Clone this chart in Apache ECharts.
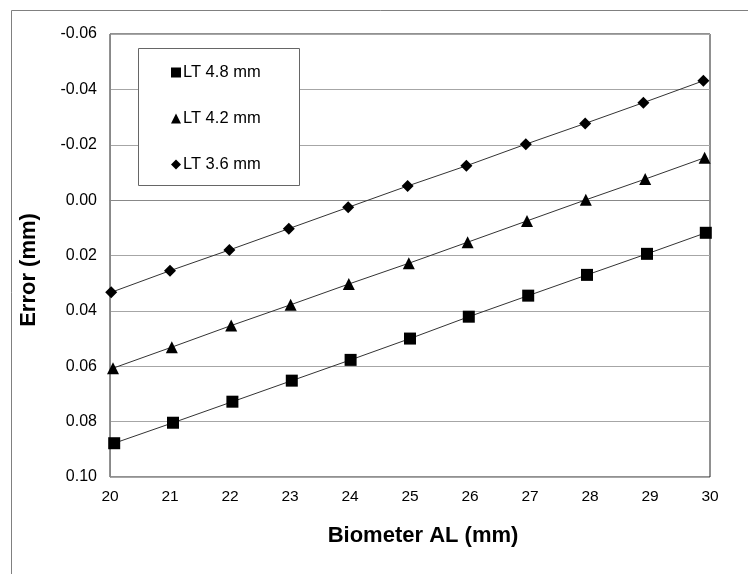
<!DOCTYPE html>
<html>
<head>
<meta charset="utf-8">
<style>
  html, body { margin: 0; padding: 0; background: #fff; }
  #chart { width: 748px; height: 574px; }
</style>
<script src="https://cdn.jsdelivr.net/npm/echarts@6/dist/echarts.min.js"></script>
</head>
<body>
<div id="chart"></div>
<script>
// Biometer axial length (mm) and resulting error (mm) for three lens thicknesses
const seriesNames = ['LT 4.8 mm', 'LT 4.2 mm', 'LT 3.6 mm'];

const alLT48 = [20.07, 21.05, 22.04, 23.03, 24.01, 25.00, 25.98, 26.97, 27.95, 28.95, 29.93];
const errLT48 = [0.0878, 0.0804, 0.0728, 0.0652, 0.0577, 0.0500, 0.0421, 0.0345, 0.0270, 0.0194, 0.0118];

const alLT42 = [20.05, 21.03, 22.02, 23.01, 23.98, 24.98, 25.96, 26.95, 27.93, 28.92, 29.91];
const errLT42 = [0.0607, 0.0531, 0.0453, 0.0378, 0.0303, 0.0228, 0.0152, 0.0075, -0.0001, -0.0076, -0.0153];

const alLT36 = [20.02, 21.00, 21.99, 22.98, 23.97, 24.96, 25.94, 26.93, 27.92, 28.89, 29.89];
const errLT36 = [0.0333, 0.0255, 0.0180, 0.0103, 0.0026, -0.0051, -0.0124, -0.0202, -0.0277, -0.0352, -0.0431];

// Axis ranges and ticks
const xMin = 20, xMax = 30, xStep = 1;
const yMin = -0.06, yMax = 0.10, yStep = 0.02;

const FONT = 'Liberation Sans, Arial, Helvetica, sans-serif';

function pairs(xs, ys) {
  return xs.map((x, i) => [x, ys[i]]);
}

const symbols = ['rect', 'triangle', 'diamond'];
const symbolSizes = [12, 12, [12, 12]];
const values = [pairs(alLT48, errLT48), pairs(alLT42, errLT42), pairs(alLT36, errLT36)];

const chart = echarts.init(document.getElementById('chart'), null, { renderer: 'canvas' });

chart.setOption({
  animation: false,
  backgroundColor: '#fff',
  textStyle: { fontFamily: FONT, color: '#000' },
  grid: {
    left: 110, top: 34, right: 38, bottom: 97,
    show: true, borderColor: '#222', borderWidth: 1, backgroundColor: 'transparent'
  },
  graphic: [
    {
      // outer chart frame
      type: 'rect', z: 1, silent: true,
      shape: { x: 11.5, y: 10.5, width: 800, height: 700 },
      style: { fill: 'none', stroke: '#808080', lineWidth: 1 }
    },
    {
      // legend box
      type: 'rect', z: 3, silent: true,
      shape: { x: 138.5, y: 48.5, width: 161, height: 137 },
      style: { fill: '#fff', stroke: '#666', lineWidth: 1 }
    }
  ],
  legend: {
    orient: 'vertical',
    left: 171, top: 64,
    z: 10,
    padding: 0,
    itemWidth: 10, itemHeight: 10,
    itemGap: 29,
    selectedMode: false,
    textStyle: { fontFamily: FONT, fontSize: 16.5, color: '#000', lineHeight: 17, padding: [0, 0, 0, -3] },
    data: seriesNames.map((n, i) => ({ name: n, icon: symbols[i] }))
  },
  xAxis: {
    type: 'value',
    min: xMin, max: xMax, interval: xStep,
    name: 'Biometer AL (mm)',
    nameLocation: 'middle',
    nameGap: 48,
    nameTextStyle: { fontFamily: FONT, fontSize: 22, fontWeight: 'bold', color: '#000', padding: [0, 0, 0, 26] },
    axisLine: { show: true, lineStyle: { color: '#888', width: 1 } },
    axisTick: { show: false },
    splitLine: { show: false },
    axisLabel: { fontFamily: FONT, fontSize: 15.5, color: '#000', margin: 12 }
  },
  yAxis: {
    type: 'value',
    inverse: true,
    min: yMin, max: yMax, interval: yStep,
    name: 'Error (mm)',
    nameLocation: 'middle',
    nameRotate: 90,
    nameGap: 70,
    nameTextStyle: { fontFamily: FONT, fontSize: 22, fontWeight: 'bold', color: '#000', padding: [0, 29, 0, 0] },
    axisLine: { show: true, lineStyle: { color: '#888', width: 1 } },
    axisTick: { show: false },
    splitLine: { show: true, lineStyle: { color: '#a6a6a6', width: 1 } },
    axisLabel: {
      fontFamily: FONT, fontSize: 16, color: '#000', margin: 13,
      formatter: v => (Math.abs(v) < 1e-9 ? 0 : v).toFixed(2)
    }
  },
  series: seriesNames.map((name, i) => ({
    name: name,
    type: 'line',
    data: values[i],
    symbol: symbols[i],
    symbolSize: symbolSizes[i],
    showSymbol: true,
    itemStyle: { color: '#000' },
    lineStyle: { color: '#333', width: 1 },
    z: 3
  }))
});
</script>
</body>
</html>
